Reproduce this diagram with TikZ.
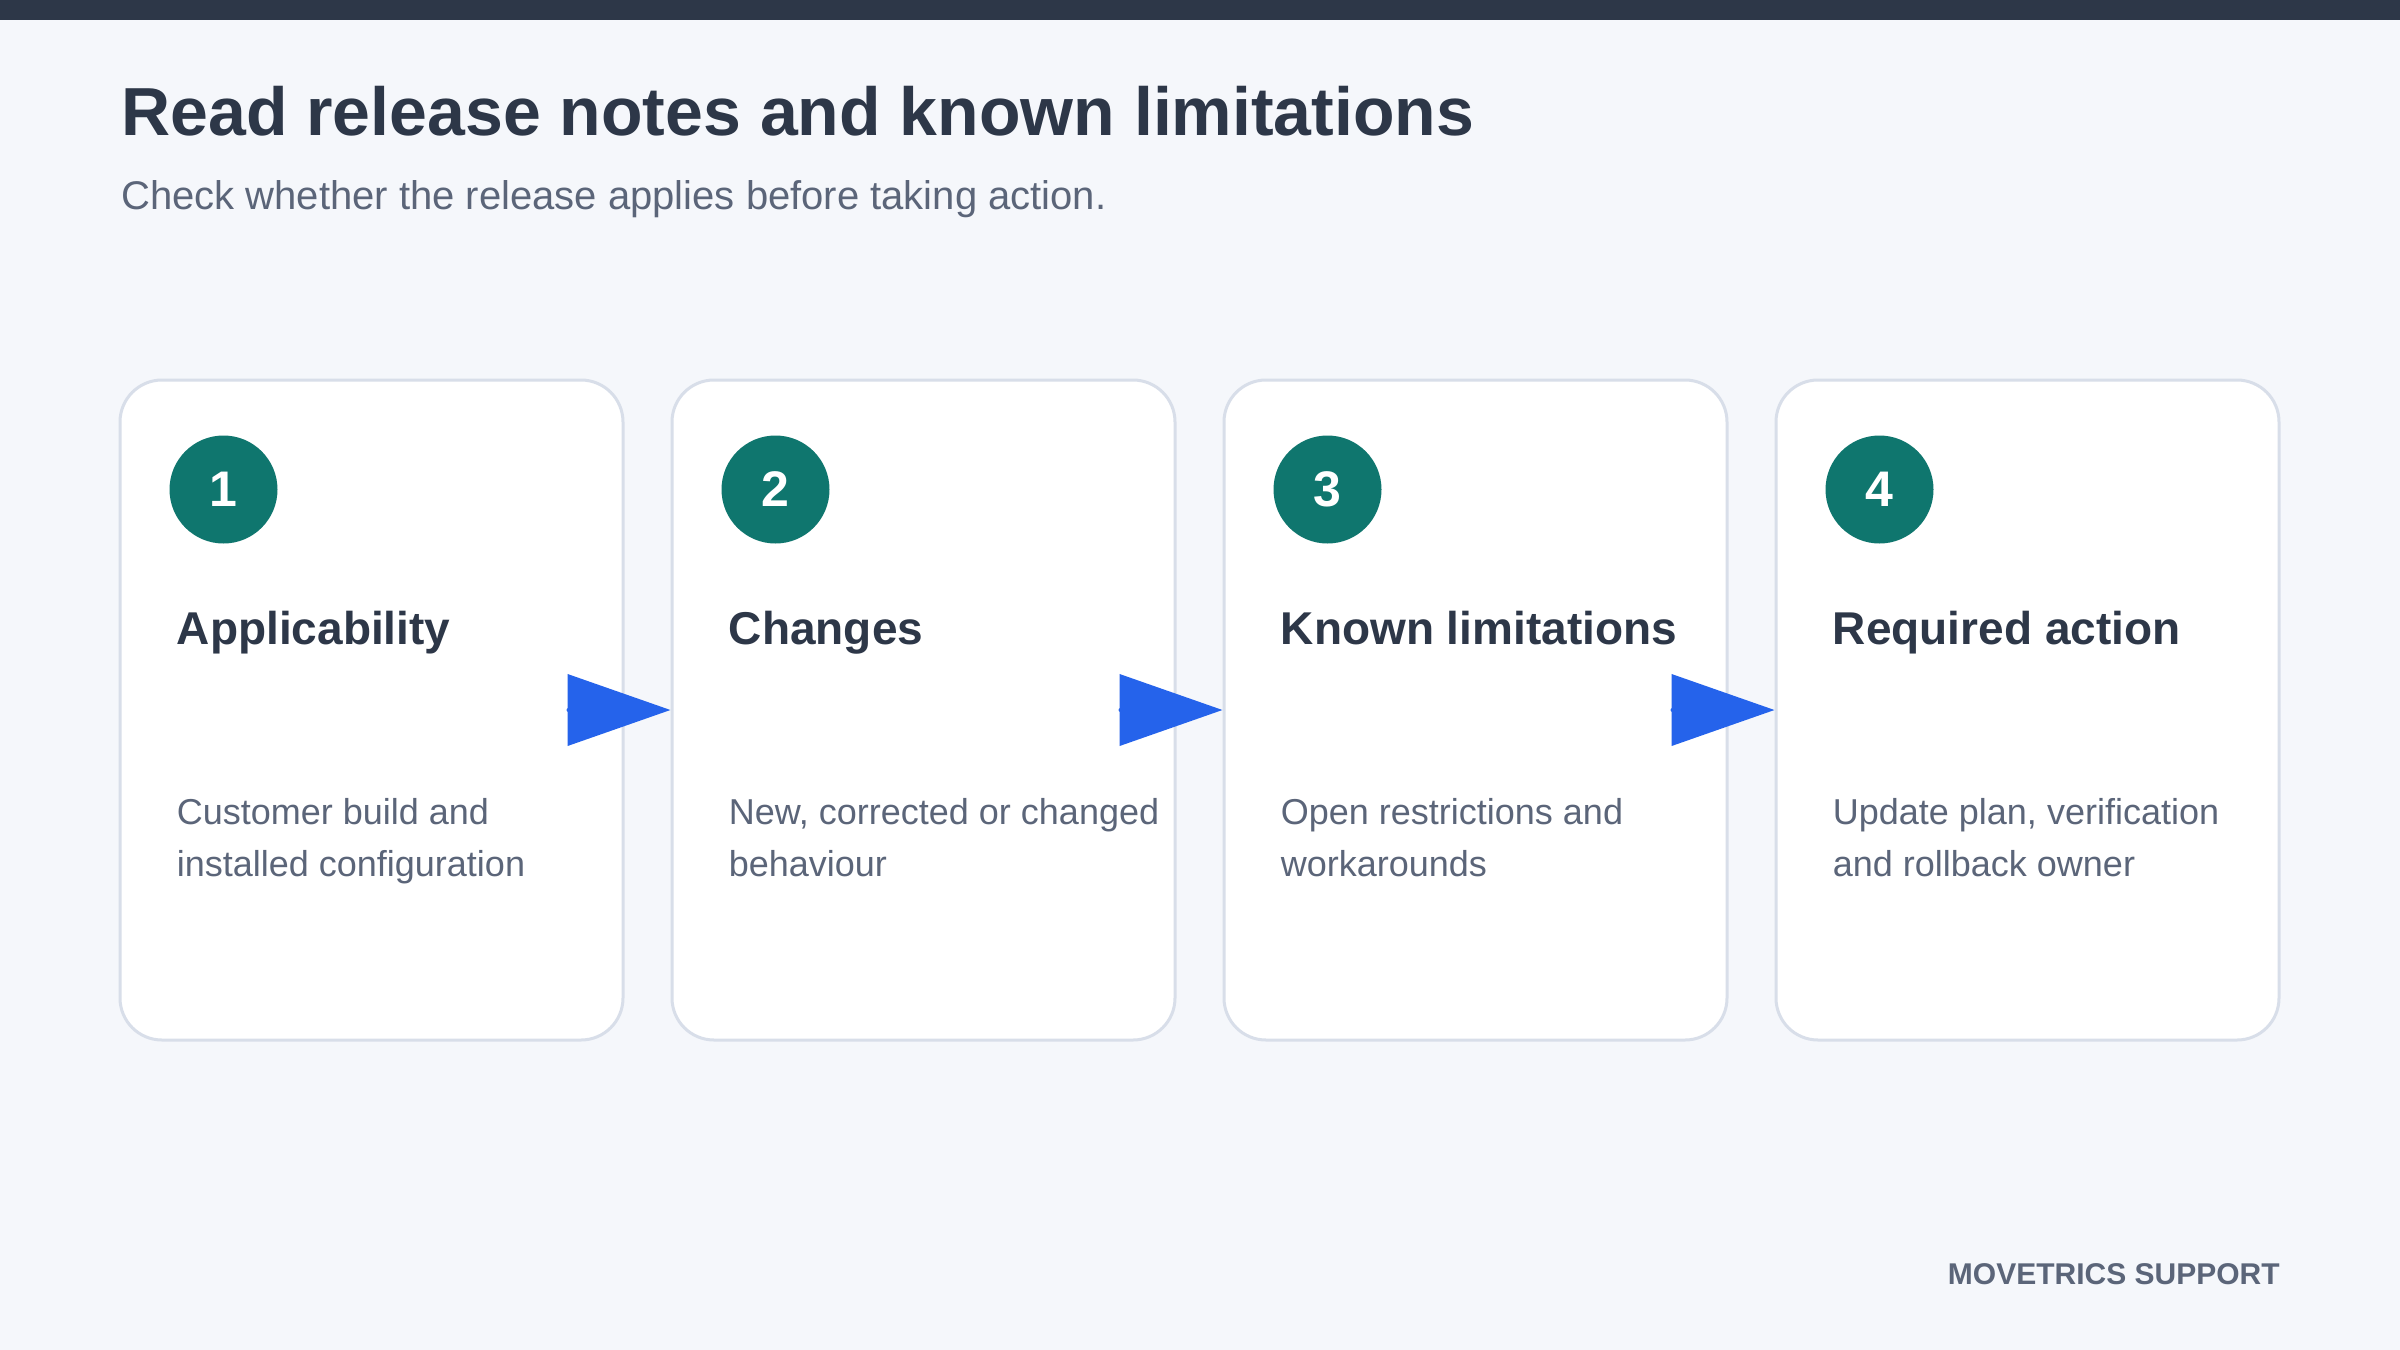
\documentclass[tikz,border=0pt]{standalone}
\usepackage{fontspec}
\setmainfont{Liberation Sans}
\usetikzlibrary{calc,arrows.meta}

\definecolor{pagebg}{HTML}{F5F7FB}
\definecolor{topbar}{HTML}{2D3748}
\definecolor{ink}{HTML}{2D3748}
\definecolor{muted}{HTML}{5B6579}
\definecolor{cardline}{HTML}{D8DEE9}
\definecolor{badgeteal}{HTML}{0F766E}
\definecolor{arrowblue}{HTML}{2563EB}

\begin{document}
\begin{tikzpicture}[x=0.5pt,y=-0.5pt,
  card/.style={draw=cardline,line width=1.5pt,fill=white,rounded corners=21pt,
    minimum width=251.5pt,minimum height=330pt,inner sep=0pt},
  badge/.style={circle,fill=badgeteal,minimum size=54pt,inner sep=0pt,
    text=white,font=\bfseries\fontsize{25}{25}\selectfont},
  heading/.style={anchor=base west,inner sep=0pt,text=ink,
    font=\bfseries\fontsize{23}{28}\selectfont},
  detail/.style={anchor=base west,inner sep=0pt,align=left,text=muted,
    font=\fontsize{18}{26}\selectfont},
  flow/.style={draw=arrowblue,line width=2pt,line cap=round,
    -{Triangle[length=51.5pt,width=35.5pt]}}]

  % page and top bar
  \fill[pagebg] (0,0) rectangle (2400,1350);
  \fill[topbar] (0,0) rectangle (2400,20);

  \node[anchor=base west,inner sep=0pt,text=ink,font=\bfseries\fontsize{34}{40}\selectfont]
    (title) at (121,135) {Read release notes and known limitations};
  \node[anchor=base west,inner sep=0pt,text=muted,font=\fontsize{20}{24}\selectfont]
    (subtitle) at (121,209) {Check whether the release applies before taking action.};

  \def\prev{0} % previous card
  \foreach \i/\head/\body in {1/Applicability/{Customer build and\\installed configuration},
      2/Changes/{New, corrected or changed\\behaviour},
      3/Known limitations/{Open restrictions and\\workarounds},
      4/Required action/{Update plan, verification\\and rollback owner}}{
    \node[card] (c\i) at ({371.5+(\i-1)*552},710) {};
    \node[badge] (n\i) at ($(c\i.north west)+(105,111)$) {\i};
    \node[heading] (h\i) at ($(c\i.north west)+(58,266)$) {\head};
    % base anchor sits on the last line
    \node[detail] (d\i) at ($(c\i.north west)+(58,498)$) {\body};
    \ifnum\i>1
      \draw[flow] (c\prev.east) -- (c\i.west);
    \fi
    \xdef\prev{\i} % update previous card
  }

  \node[anchor=base east,inner sep=0pt,text=muted,font=\bfseries\fontsize{15}{18}\selectfont]
    (footer) at (2280,1284) {MOVETRICS SUPPORT};
\end{tikzpicture}
\end{document}
